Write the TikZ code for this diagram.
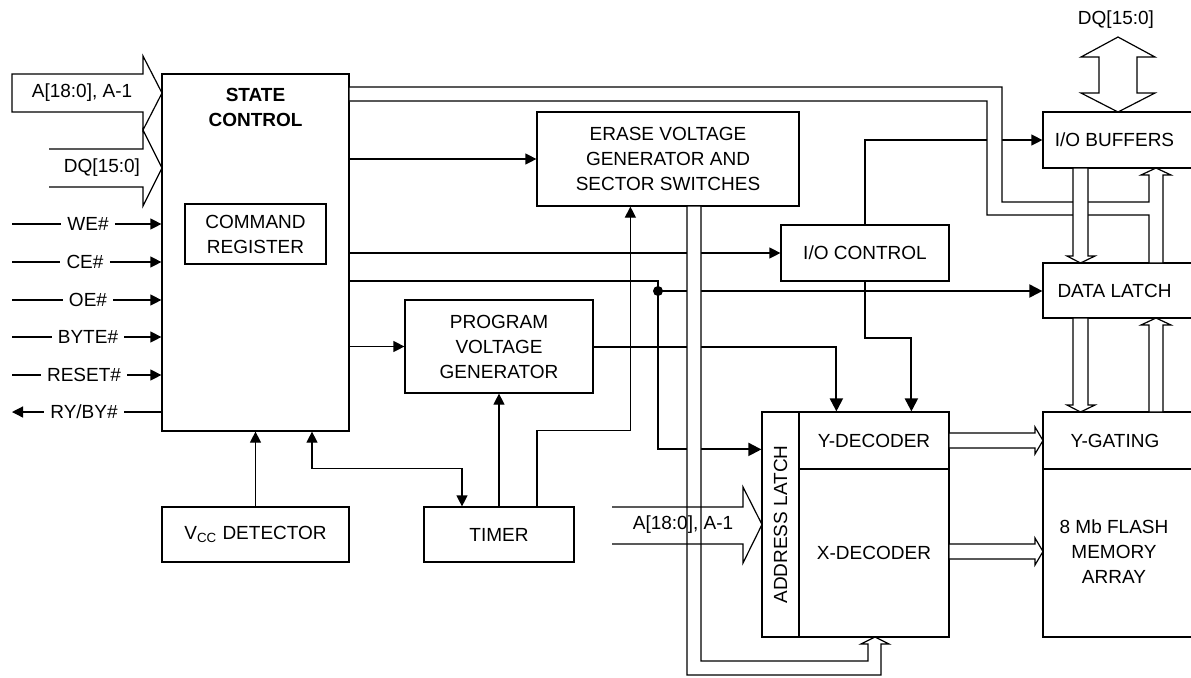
\documentclass[tikz,border=0pt]{standalone}
\usepackage{fontspec}
\setmainfont{Liberation Sans}
\usetikzlibrary{arrows.meta, fit, calc}

\tikzset{
  blk/.style={draw, inner sep=0pt, line width=0.6pt},
  txt/.style={align=center, inner sep=0pt},
  wire/.style={line width=0.6pt},
  sig/.style={line width=0.6pt, -{Triangle[length=5.5pt,width=5.5pt]}},
  sigd/.style={line width=0.6pt, {Triangle[length=5.5pt,width=5.5pt]}-{Triangle[length=5.5pt,width=5.5pt]}},
  sigb/.style={line width=1pt, -{Triangle[length=6.5pt,width=6.5pt]}},
  bus/.style={draw, fill=white, line width=0.6pt},
  pinlbl/.style={inner xsep=3pt, inner ysep=1pt},
}

\begin{document}
\begin{tikzpicture}[x=0.5pt, y=-0.5pt, font=\fontsize{9.5}{12.5}\selectfont]
\useasboundingbox (0,0) rectangle (1191,677);

% blocks
\node[blk, fit={(162,74) (349,431)}] (sc) {};
\node[txt, font=\fontsize{9.5}{12.5}\selectfont\bfseries] (sctxt) at (255.5,107.5) {STATE\\CONTROL};
\node[blk, fit={(185,204) (326,264)}] (cmd) {};
\node[txt] (cmdtxt) at (cmd.center) {COMMAND\\REGISTER};
\node[blk, fit={(537,112) (799,206)}] (erase) {};
\node[txt] (erasetxt) at (erase.center) {ERASE VOLTAGE\\GENERATOR AND\\SECTOR SWITCHES};
\node[blk, fit={(405,300) (593,393)}] (pvg) {};
\node[txt] (pvgtxt) at (pvg.center) {PROGRAM\\VOLTAGE\\GENERATOR};
\node[blk, fit={(781,225) (949,281)}] (ioc) {};
\node[txt] (ioctxt) at (ioc.center) {I/O CONTROL};
\node[blk, fit={(162,507) (349,562)}] (vcc) {};
\node[txt] (vcctxt) at (vcc.center) {V\textsubscript{CC} DETECTOR};
\node[blk, fit={(424,507) (574,562)}] (timer) {};
\node[txt] (timertxt) at (timer.center) {TIMER};
\node[blk, fit={(762,412) (799,637)}] (alat) {};
\node[txt, rotate=90] (alattxt) at (alat.center) {ADDRESS LATCH};
\node[blk, fit={(799,412) (949,469)}] (ydec) {};
\node[txt] (ydectxt) at (ydec.center) {Y-DECODER};
\node[blk, fit={(799,469) (949,637)}] (xdec) {};
\node[txt] (xdectxt) at (xdec.center) {X-DECODER};
\node[blk, fit={(1043,112) (1192,168)}] (iob) {};
\node[txt] (iobtxt) at (1114.5,140) {I/O BUFFERS};
\node[blk, fit={(1043,263) (1192,318)}] (dlat) {};
\node[txt] (dlattxt) at (1114.5,290.5) {DATA LATCH};
\node[blk, fit={(1043,412) (1192,469)}] (ygat) {};
\node[txt] (ygattxt) at (1115,440.5) {Y-GATING};
\node[blk, fit={(1043,469) (1192,637)}] (marr) {};
\node[txt] (marrtxt) at (1114,552) {8 Mb FLASH\\MEMORY\\ARRAY};

% control inputs
\foreach \nm/\txt/\y/\cx in {we/WE\#/224/88, ce/CE\#/262/85, oe/OE\#/300/88, bt/BYTE\#/337/88, rs/RESET\#/375/84}{
  \node[pinlbl] (\nm) at (\cx,\y) {\txt};
  \coordinate (\nm0) at (12,\y);
  \draw[wire] (\nm0) -- (\nm);
  \draw[sig] (\nm) -- (sc.west |- \nm);
}
\node[pinlbl] (ry) at (84,412) {RY/BY\#};
\coordinate (ry0) at (12,412);
\draw[wire] (sc.west |- ry) -- (ry);
\draw[sig] (ry) -- (ry0);

% address and data inputs
\draw[wire] (143,56) -- (162,93) -- (143,130) -- (143,112) -- (12,112) -- (12,74) -- (143,74) -- cycle;
\node (ain) at (82,93) {A[18:0], A-1};
\draw[wire] (49,149) -- (143,149) -- (143,130) -- (162,168) -- (143,206) -- (143,187) -- (49,187);
\node (dqin) at (102,168) {DQ[15:0]};

% control lines
\draw[sig] (sc.east |- erase.west) -- (erase.west);
\draw[sig] (sc.east |- ioc.west) -- (ioc.west);
\draw[sig] (sc.east |- pvg.west) -- (pvg.west);
\draw[sig] (vcc.north) -- (vcc.north |- sc.south);
\draw[sig] (timer.north) -- (pvg.south);
\draw[sig] ([xshift=19pt]timer.north) -- ++(0,-76) -| ([xshift=47pt]erase.south west);
\draw[sigd] ([xshift=28.25pt]sc.south) -- ++(0,37) -| ([xshift=-18.5pt]timer.north);
\draw[sig] (ioc.north) |- (iob.west);

\coordinate (br) at (658,291);
\draw[sigb] (sc.east |- 0,281) -| (br) |- ([yshift=-19pt]alat.north west);
\fill (br) circle (2.5pt);
\draw[sigb] (br) -- (dlat.west |- br);
\draw[sigb] (pvg.east) -| ([xshift=19pt]ydec.north west);
\draw[sigb] (ioc.south) -- ++(0,56) -| ([xshift=56.5pt]ydec.north west);

% buses
\draw[bus] (349,87) -- (1002,87) -- (1002,202) -- (1149,202) -- (1149,175) -- (1141,175) -- (1156,168)
  -- (1171,175) -- (1163,175) -- (1163,263) -- (1149,263) -- (1149,215) -- (987,215) -- (987,101) -- (349,101) -- cycle;
\draw[bus] (687,206) -- (687,675) -- (881,675) -- (881,644) -- (889,644) -- (875,637) -- (861,644)
  -- (868,644) -- (868,661) -- (701,661) -- (701,206) -- cycle;
\draw[bus] (1073,168) -- (1073,256) -- (1067,256) -- (1080.5,263) -- (1095,256) -- (1088,256) -- (1088,168) -- cycle;
\draw[bus] (1073,318) -- (1073,405) -- (1067,405) -- (1080.5,412) -- (1095,405) -- (1088,405) -- (1088,318) -- cycle;
\draw[bus] (1149,412) -- (1149,325) -- (1141,325) -- (1156,318) -- (1171,325) -- (1163,325) -- (1163,412) -- cycle;
\draw[bus] (949,433) -- (1035,433) -- (1035,427) -- (1043,440.5) -- (1035,454) -- (1035,448) -- (949,448) -- cycle;
\draw[bus] (949,544) -- (1035,544) -- (1035,538) -- (1043,551.5) -- (1035,565) -- (1035,559) -- (949,559) -- cycle;
\draw[bus] (1118,37) -- (1155,57) -- (1137,57) -- (1137,93) -- (1155,93) -- (1118,112) -- (1081,93)
  -- (1099,93) -- (1099,57) -- (1081,57) -- cycle;
\node (dqtop) at (1116,20) {DQ[15:0]};

\draw[wire] (612,507) -- (743,507) -- (743,487) -- (762,524.5) -- (743,563) -- (743,544) -- (612,544);
\node (aadr) at (683,525) {A[18:0], A-1};
\end{tikzpicture}
\end{document}
